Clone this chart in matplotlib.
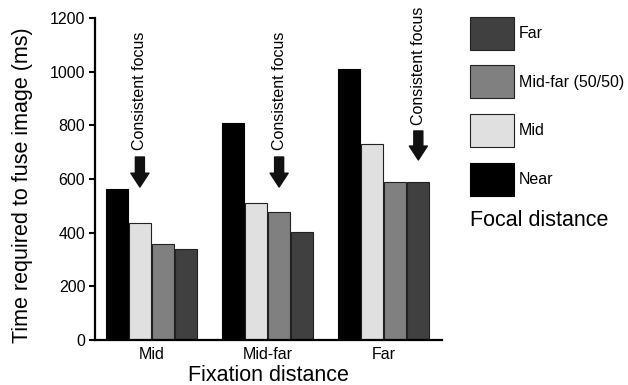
import numpy as np
import matplotlib
matplotlib.use('Agg')
import matplotlib.pyplot as plt
from matplotlib.patches import Rectangle

plt.rcParams['font.family'] = ['Liberation Sans', 'DejaVu Sans']

fixation = ['Mid', 'Mid-far', 'Far']
focal = ['Near', 'Mid', 'Mid-far (50/50)', 'Far']
near = [562, 809, 1010]
mid = [435, 509, 729]
midfar = [357, 476, 590]
far = [338, 401, 590]
colors = ['#000000', '#e0e0e0', '#808080', '#404040']
edges = ['#000000', '#222222', '#222222', '#222222']

# arrow marking the consistent-focus bar in each group (tail, tip, label base)
arrow_bar = [1, 2, 3]
arrow_tail = [682, 682, 779]
arrow_tip = [570, 570, 671]
note_base = [708, 708, 801]

small = 11.5
big = 15.5
W, H = 628, 385

fig = plt.figure(figsize=(W / 100, H / 100), dpi=100)
ax = fig.add_axes([95/W, 45/H, 347/W, 322/H])

x = np.arange(len(fixation))
offsets = [-0.3, -0.1, 0.1, 0.3]
width = 0.19
series = [near, mid, midfar, far]
for i, vals in enumerate(series):
    ax.bar(x + offsets[i], vals, width, color=colors[i], edgecolor=edges[i], linewidth=0.8)

for g in range(len(fixation)):
    xa = x[g] + offsets[arrow_bar[g]]
    ax.annotate('', xy=(xa, arrow_tip[g]), xytext=(xa, arrow_tail[g]),
                arrowprops=dict(arrowstyle='simple,head_length=1.0,head_width=1.3,tail_width=0.65',
                                mutation_scale=10, color='#111111', shrinkA=0, shrinkB=0))
    ax.text(xa, note_base[g], 'Consistent focus', rotation=90, ha='center', va='bottom', fontsize=small)

ax.set_xlim(-0.487, 2.504)
ax.set_ylim(0, 1200)
ax.set_yticks(range(0, 1201, 200))
ax.set_xticks(x)
ax.set_xticklabels(fixation, fontsize=small)
ax.tick_params(axis='y', labelsize=small, length=4, width=1.5, direction='out', pad=3)
ax.tick_params(axis='x', length=0, pad=5)
for s in ['top', 'right']:
    ax.spines[s].set_visible(False)
for s in ['left', 'bottom']:
    ax.spines[s].set_linewidth(1.6)

ax.set_xlabel('Fixation distance', fontsize=big, labelpad=2)
ax.set_ylabel('Time required to fuse image (ms)', fontsize=big)
ax.yaxis.set_label_coords(-0.178, 0.48)

# key: swatches stacked from Far (top) down to Near
box_w, box_h, pitch = 44, 33, 48.5
for k, i in enumerate(range(3, -1, -1)):
    top = 17 + k * pitch
    fig.add_artist(Rectangle((470 / W, 1 - (top + box_h) / H), box_w / W, box_h / H,
                             transform=fig.transFigure, facecolor=colors[i],
                             edgecolor=edges[i], linewidth=0.8))
    fig.text(519 / W, 1 - (top + box_h / 2) / H, focal[i], fontsize=small,
             ha='left', va='center')
fig.text(470 / W, 1 - 226 / H, 'Focal distance', fontsize=big, ha='left', va='baseline')

fig.savefig('out.png', dpi=100)
